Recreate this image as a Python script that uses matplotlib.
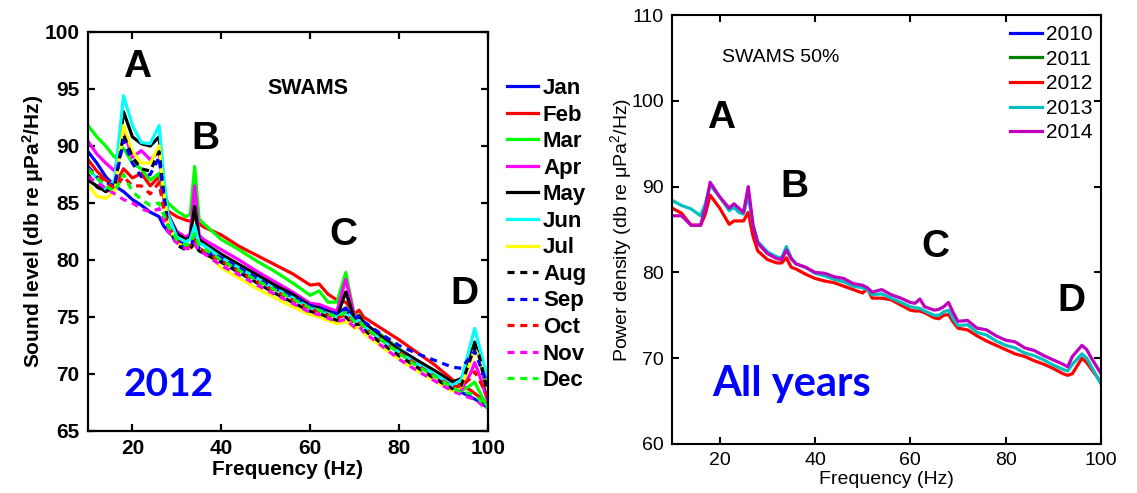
import matplotlib
matplotlib.use("Agg")
import matplotlib.pyplot as plt

plt.rcParams['font.family'] = ['Liberation Sans', 'DejaVu Sans']
plt.rcParams['mathtext.default'] = 'regular'

# ---- left panel: monthly spectra, 2012 ----
freq_month = [10, 12, 14, 16, 18, 20, 22, 24, 26, 27, 28, 30, 32, 33, 34, 35, 36,
              40, 44, 48, 52, 56, 60, 62, 64, 66, 68, 70, 71, 72, 76, 80, 84, 88,
              92, 94, 96, 97, 98, 100]

jan = [89.5, 88.5, 87.3, 86.5, 86.0, 85.3, 84.8, 84.2, 83.8, 83.0, 82.5, 81.8, 81.3, 81.2,
       81.6, 81.0, 80.8, 80.0, 79.2, 78.4, 77.7, 76.9, 76.1, 75.9, 75.6, 75.3, 75.8, 74.8,
       74.7, 74.4, 73.4, 72.2, 71.2, 70.2, 69.0, 68.4, 68.0, 67.8, 67.6, 67.0]
feb = [88.8, 87.8, 87.0, 86.5, 88.0, 87.2, 87.6, 86.5, 87.3, 85.5, 84.3, 83.8, 83.5, 83.4,
       83.6, 83.2, 82.9, 82.2, 81.2, 80.4, 79.6, 78.8, 77.8, 77.9, 77.0, 76.5, 76.3, 75.3,
       75.6, 75.0, 74.0, 73.0, 71.9, 70.8, 69.5, 69.0, 68.6, 68.3, 68.0, 67.3]
mar = [91.8, 90.8, 90.0, 89.0, 89.8, 88.5, 88.0, 87.0, 87.6, 86.0, 85.0, 84.3, 83.8, 84.0,
       88.2, 83.6, 83.2, 81.8, 80.9, 79.9, 79.0, 78.0, 76.9, 77.3, 76.3, 76.3, 78.9, 75.0,
       75.2, 74.5, 73.4, 72.2, 71.0, 70.0, 68.9, 68.5, 69.0, 69.3, 68.5, 67.0]
apr = [90.4, 89.3, 88.5, 87.8, 91.3, 89.0, 89.6, 88.8, 89.5, 86.0, 84.0, 82.5, 82.0, 82.3,
       86.5, 82.2, 81.8, 80.9, 80.0, 79.0, 78.1, 77.2, 76.2, 76.1, 75.8, 75.5, 78.3, 75.0,
       75.1, 74.6, 73.2, 72.0, 70.9, 69.9, 68.8, 68.6, 70.0, 71.0, 70.0, 67.5]
may = [87.0, 86.5, 86.0, 86.5, 93.0, 90.8, 90.2, 90.0, 90.8, 87.0, 84.0, 82.3, 81.8, 82.0,
       84.7, 81.8, 81.5, 80.5, 79.6, 78.7, 77.8, 77.0, 76.0, 75.8, 75.5, 75.0, 77.2, 74.8,
       75.1, 74.5, 73.3, 72.1, 71.2, 70.3, 69.3, 69.6, 71.5, 72.8, 71.5, 68.2]
jun = [88.0, 87.2, 86.2, 87.0, 94.4, 91.8, 90.3, 90.2, 91.8, 87.5, 84.0, 82.0, 81.6, 81.8,
       83.0, 81.5, 81.3, 80.2, 79.3, 78.4, 77.5, 76.7, 75.8, 75.6, 75.3, 75.0, 75.5, 74.6,
       74.7, 74.2, 73.0, 71.9, 70.9, 70.0, 69.0, 69.5, 72.5, 74.0, 72.5, 69.5]
jul = [86.6, 85.6, 85.4, 86.0, 91.8, 89.5, 88.5, 88.5, 90.0, 86.0, 83.0, 81.5, 81.1, 81.0,
       81.3, 80.9, 80.8, 79.3, 78.4, 77.5, 76.7, 75.9, 75.2, 75.0, 74.7, 74.4, 74.6, 74.0,
       74.1, 73.6, 72.4, 71.3, 70.3, 69.4, 68.5, 68.9, 71.0, 72.2, 71.5, 68.5]
aug = [87.5, 86.4, 86.0, 86.5, 91.0, 89.0, 88.0, 87.8, 89.5, 86.0, 83.0, 81.3, 80.9, 81.0,
       81.5, 80.8, 80.6, 79.8, 78.9, 78.0, 77.1, 76.3, 75.5, 75.3, 75.0, 74.7, 75.0, 74.3,
       74.4, 73.9, 72.7, 71.6, 70.6, 69.6, 68.7, 69.0, 71.3, 72.4, 71.6, 68.3]
sep = [88.2, 87.3, 86.8, 86.5, 90.5, 88.5, 87.3, 87.5, 89.0, 85.5, 83.0, 81.5, 81.1, 81.2,
       82.0, 81.0, 80.8, 80.2, 79.3, 78.4, 77.5, 76.8, 76.0, 75.8, 75.5, 75.3, 75.6, 74.9,
       75.0, 74.6, 73.5, 72.5, 71.8, 71.2, 70.6, 70.5, 71.5, 72.0, 71.0, 69.0]
oct_ = [88.0, 87.3, 86.8, 86.3, 87.3, 86.5, 86.5, 85.8, 86.8, 84.5, 83.0, 81.7, 81.2, 81.3,
        81.8, 81.0, 80.8, 79.9, 79.0, 78.1, 77.3, 76.5, 75.7, 75.5, 75.2, 74.9, 75.2, 74.5,
        74.6, 74.1, 73.0, 71.9, 70.8, 69.8, 68.9, 68.9, 69.6, 70.2, 69.5, 68.0]
nov = [87.3, 86.8, 86.3, 85.8, 85.3, 85.0, 84.5, 84.2, 84.5, 83.5, 82.5, 81.5, 81.0, 81.0,
       81.4, 80.8, 80.6, 79.5, 78.7, 77.8, 77.0, 76.2, 75.4, 75.2, 74.9, 74.6, 74.8, 74.1,
       74.2, 73.7, 72.5, 71.3, 70.3, 69.4, 68.5, 68.2, 67.9, 67.8, 67.5, 66.8]
dec = [88.0, 87.2, 86.5, 86.0, 87.5, 86.0, 85.3, 84.8, 85.0, 84.0, 83.0, 81.8, 81.3, 81.4,
       82.3, 81.2, 81.0, 80.0, 79.1, 78.2, 77.4, 76.6, 75.8, 75.6, 75.3, 75.0, 75.4, 74.6,
       74.7, 74.2, 73.0, 71.8, 70.7, 69.8, 68.8, 68.4, 68.3, 68.1, 67.8, 67.0]

month_names = ['Jan', 'Feb', 'Mar', 'Apr', 'May', 'Jun', 'Jul',
               'Aug', 'Sep', 'Oct', 'Nov', 'Dec']
month_values = [jan, feb, mar, apr, may, jun, jul, aug, sep, oct_, nov, dec]

# ---- right panel: 50th percentile per year ----
freq_year = [10, 12, 14, 16, 17, 18, 20, 22, 23, 24, 25, 26, 27, 28, 30, 32, 33, 34, 35,
             36, 38, 40, 42, 44, 46, 48, 50, 51, 52, 54, 56, 58, 60, 61, 62, 63, 65, 66,
             67, 68, 69, 70, 72, 74, 76, 78, 80, 82, 84, 86, 88, 90, 92, 93, 94, 96, 97,
             98, 100]

y2010 = []   # no visible curve
y2011 = []   # no visible curve
y2012 = [87.5, 86.9, 85.5, 85.5, 86.8, 89.0, 87.5, 85.6, 86.0, 86.0, 86.0, 87.0, 84.2,
         82.5, 81.5, 81.1, 81.1, 81.7, 80.6, 80.4, 79.8, 79.3, 79.0, 78.8, 78.4, 78.0,
         77.6, 78.1, 77.0, 77.0, 76.8, 76.2, 75.6, 75.5, 75.5, 75.3, 74.7, 74.6, 75.0,
         75.1, 74.2, 73.5, 73.3, 72.6, 72.0, 71.5, 71.0, 70.5, 70.2, 69.7, 69.3, 68.8,
         68.2, 68.0, 68.2, 70.0, 69.5, 68.7, 67.2]
y2013 = [88.4, 87.8, 87.4, 86.6, 88.0, 90.2, 88.8, 87.2, 87.6, 87.0, 86.8, 89.0, 85.5,
         83.6, 82.4, 81.8, 81.7, 83.0, 81.7, 81.0, 80.6, 79.9, 79.6, 79.2, 78.9, 78.4,
         78.2, 78.0, 77.4, 77.5, 77.0, 76.5, 76.0, 75.9, 75.8, 75.5, 75.0, 75.0, 75.4,
         75.6, 74.6, 73.8, 73.9, 73.0, 72.7, 72.0, 71.5, 71.2, 70.6, 70.3, 69.8, 69.2,
         68.7, 68.5, 69.3, 70.5, 70.0, 69.0, 67.0]
y2014 = [86.6, 86.6, 85.5, 85.5, 87.5, 90.5, 88.8, 87.5, 88.0, 87.5, 87.0, 90.0, 85.5,
         83.4, 82.2, 81.6, 81.5, 82.6, 81.6, 81.0, 80.6, 80.0, 79.9, 79.5, 79.3, 78.7,
         78.5, 78.2, 77.7, 78.0, 77.4, 77.0, 76.5, 76.4, 76.9, 76.0, 75.6, 75.7, 76.0,
         76.5, 75.3, 74.3, 74.4, 73.5, 73.3, 72.6, 72.1, 71.9, 71.2, 70.9, 70.3, 69.8,
         69.3, 69.0, 70.2, 71.5, 71.0, 70.0, 68.2]

year_names = ['2010', '2011', '2012', '2013', '2014']
year_values = [y2010, y2011, y2012, y2013, y2014]

# styles
month_colors = ['#0000ff', '#ff0000', '#00ff00', '#ff00ff', '#000000', '#00ffff', '#ffff00',
                '#000000', '#0000ff', '#ff0000', '#ff00ff', '#00ff00']
dash = (0, (2.2, 1.8))
month_styles = ['-'] * 7 + [dash] * 5
year_colors = ['#0000ff', '#008000', '#ff0000', '#00bfbf', '#bf00bf']

W, H = 1137, 493
fig = plt.figure(figsize=(W / 100, H / 100), dpi=100)


def px_axes(x0, x1, y0, y1):
    return fig.add_axes([x0 / W, 1 - y1 / H, (x1 - x0) / W, (y1 - y0) / H])


def matlab_box(ax, lw, size, weight):
    for s in ax.spines.values():
        s.set_linewidth(lw)
    ax.tick_params(direction='in', top=True, right=True, length=5, width=lw,
                   labelsize=size, pad=6)
    for lab in ax.get_xticklabels() + ax.get_yticklabels():
        lab.set_fontweight(weight)


# ---------- left ----------
ax1 = px_axes(88, 488, 32, 431)
for name, vals, c, ls in zip(month_names, month_values, month_colors, month_styles):
    ax1.plot(freq_month, vals, color=c, linestyle=ls, lw=2.3, label=name)
ax1.set_xlim(10, 100)
ax1.set_ylim(65, 100)
ax1.set_xticks([20, 40, 60, 80, 100])
ax1.set_yticks([65, 70, 75, 80, 85, 90, 95, 100])
matlab_box(ax1, 1.6, 15, 'bold')
ax1.set_xlabel('Frequency (Hz)', fontsize=15, fontweight='bold', labelpad=1)
ax1.set_ylabel('Sound level (db re μPa$^2$/Hz)', fontsize=15, fontweight='bold', labelpad=-1)

big = dict(fontsize=28, fontweight='bold', ha='center', va='center')
ax1.text(21.1, 96.9, 'A', **big)
ax1.text(36.5, 90.6, 'B', **big)
ax1.text(67.5, 82.2, 'C', **big)
ax1.text(94.8, 77.0, 'D', **big)
ax1.text(59.4, 95.0, 'SWAMS', fontsize=15.5, fontweight='bold', ha='center', va='center')
ax1.text(28.2, 69.1, '2012', fontsize=28, fontweight='bold', color='#0000ff',
         family=['Lato', 'DejaVu Sans'], ha='center', va='center')

leg1 = ax1.legend(loc='upper left', bbox_to_anchor=(507 / W, 1 - 78 / H),
                  bbox_transform=fig.transFigure, frameon=False,
                  prop={'weight': 'bold', 'size': 16}, handlelength=1.4,
                  handletextpad=0.22, labelspacing=0.25, borderpad=0, borderaxespad=0)

# ---------- right ----------
ax2 = px_axes(672, 1101, 15, 444)
for name, vals, c in zip(year_names, year_values, year_colors):
    ax2.plot(freq_year[:len(vals)], vals, color=c, lw=2.3, label=name)
ax2.set_xlim(10, 100)
ax2.set_ylim(60, 110)
ax2.set_xticks([20, 40, 60, 80, 100])
ax2.set_yticks([60, 70, 80, 90, 100, 110])
matlab_box(ax2, 1.5, 14, 'normal')
ax2.set_xlabel('Frequency (Hz)', fontsize=14, labelpad=1)
ax2.set_ylabel('Power density (db re μPa$^2$/Hz)', fontsize=14, labelpad=-2)

ax2.text(20.3, 98.0, 'A', **big)
ax2.text(35.6, 89.9, 'B', **big)
ax2.text(65.2, 83.0, 'C', **big)
ax2.text(93.7, 76.7, 'D', **big)
ax2.text(32.9, 105.0, 'SWAMS 50%', fontsize=14, ha='center', va='center')
ax2.text(35.0, 67.0, 'All years', fontsize=30, fontweight='bold', color='#0000ff',
         family=['Lato', 'DejaVu Sans'], ha='center', va='center')

leg2 = ax2.legend(loc='upper left', bbox_to_anchor=(1010 / W, 1 - 25 / H),
                  bbox_transform=fig.transFigure, frameon=False,
                  prop={'size': 15}, handlelength=1.54, handletextpad=0.17,
                  labelspacing=0.27, borderpad=0, borderaxespad=0)

fig.savefig('out.png', dpi=100)
